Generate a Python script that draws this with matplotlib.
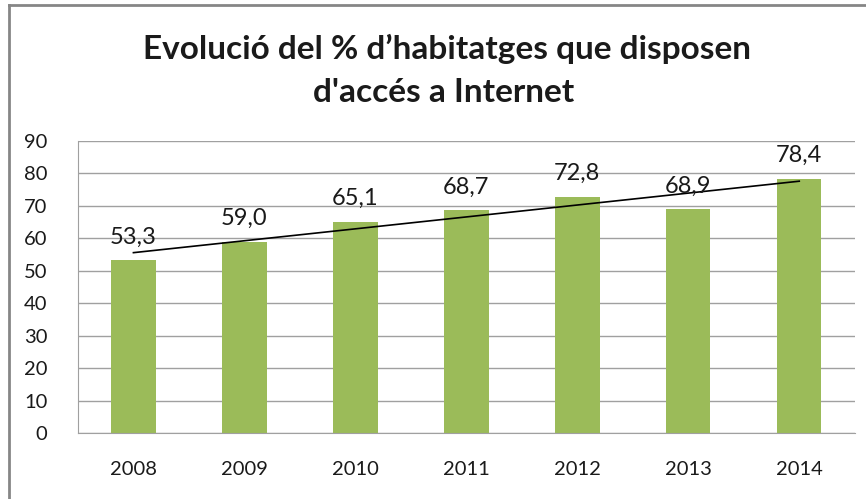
import matplotlib
matplotlib.use("Agg")
import matplotlib.pyplot as plt
from matplotlib.lines import Line2D
import numpy as np

plt.rcParams['font.family'] = ['Lato', 'DejaVu Sans']

years = ['2008', '2009', '2010', '2011', '2012', '2013', '2014']
values = [53.3, 59.0, 65.1, 68.7, 72.8, 68.9, 78.4]
title_lines = ["Evolució del % d\u2019habitatges que disposen", "d'accés a Internet"]

fig = plt.figure(figsize=(8.66, 4.99), dpi=100)
ax = fig.add_axes([0.090, 0.1323, 0.897, 0.5851])

x = np.arange(len(years))
ax.bar(x, values, width=0.4, color='#9BBB59', zorder=2)

# linear trend line
slope, intercept = np.polyfit(x, values, 1)
ax.plot(x, slope * x + intercept, color='black', lw=1.2, zorder=3)

for xi, v in zip(x, values):
    ax.annotate(f"{v:.1f}".replace('.', ','), (xi, v), xytext=(0, 9),
                textcoords='offset points', ha='center', va='bottom',
                fontsize=17, color='#1a1a1a', zorder=4)

ax.set_xlim(-0.5, len(years) - 0.5)
ax.set_ylim(0, 90)
ax.set_yticks(range(0, 91, 10))
ax.set_xticks(x)
ax.set_xticklabels(years)
ax.tick_params(axis='both', length=0, labelsize=14.5, colors='#1a1a1a')
ax.tick_params(axis='x', pad=20)
ax.tick_params(axis='y', pad=22)
ax.grid(axis='y', color='#a0a0a0', lw=1, zorder=0)
for s in ['top', 'right']:
    ax.spines[s].set_visible(False)
ax.spines['left'].set_color('#a0a0a0')
ax.spines['bottom'].set_color('#a0a0a0')

fig.text(0.516, 0.882, title_lines[0], ha='center', va='baseline',
         fontsize=24, fontweight='bold', color='#1a1a1a')
fig.text(0.512, 0.796, title_lines[1], ha='center', va='baseline',
         fontsize=24, fontweight='bold', color='#1a1a1a')

# chart frame (left and top edges visible)
fig.add_artist(Line2D([9 / 866, 9 / 866], [0, 1 - 5 / 499], transform=fig.transFigure,
                      color='#868686', lw=2))
fig.add_artist(Line2D([9 / 866, 1], [1 - 5 / 499, 1 - 5 / 499], transform=fig.transFigure,
                      color='#868686', lw=2))

fig.savefig('out.png', dpi=100)
